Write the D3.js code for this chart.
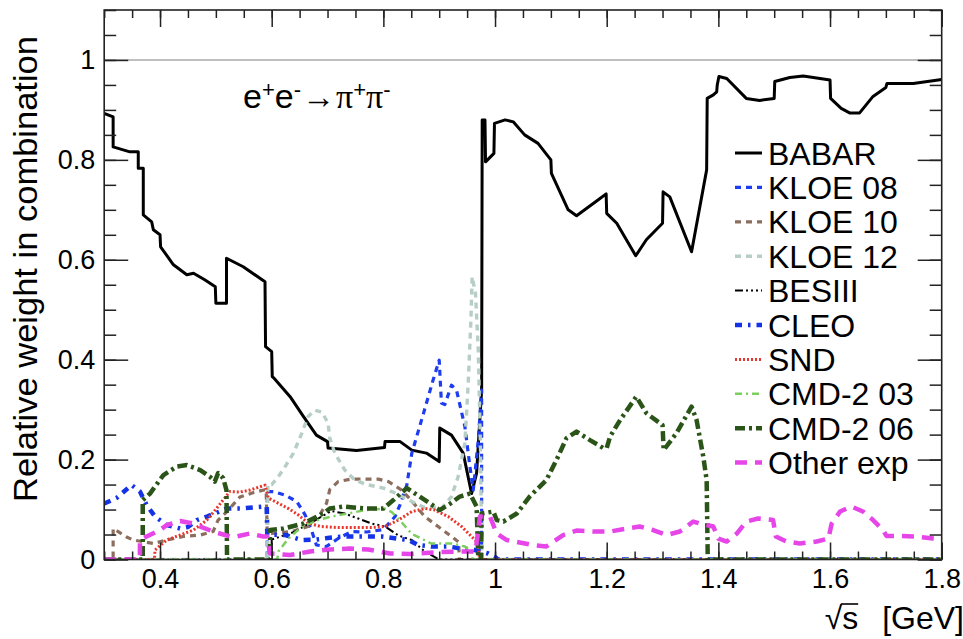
<!DOCTYPE html>
<html>
<head>
<meta charset="utf-8">
<script src="https://cdn.jsdelivr.net/npm/d3@7"></script>
<style>
  html, body { margin: 0; padding: 0; background: #fff; }
  svg { display: block; }
  text { font-family: "Liberation Sans", Arial, Helvetica, sans-serif; fill: #000; }
</style>
</head>
<body>
<svg id="chart" width="963" height="639"></svg>
<script>
// Relative weight of each experiment in the e+e- -> pi+pi- combination, as [sqrt(s) GeV, weight]
const babar = [[0.300,0.893],[0.316,0.886],[0.316,0.826],[0.346,0.816],[0.361,0.816],[0.361,0.783],[0.370,0.783],[0.370,0.690],[0.385,0.676],[0.388,0.660],[0.400,0.650],[0.401,0.626],[0.424,0.590],[0.448,0.570],[0.460,0.573],[0.480,0.560],[0.499,0.546],[0.500,0.513],[0.519,0.513],[0.519,0.603],[0.549,0.586],[0.588,0.556],[0.589,0.426],[0.600,0.416],[0.601,0.366],[0.605,0.362],[0.633,0.326],[0.657,0.286],[0.680,0.249],[0.700,0.236],[0.701,0.223],[0.752,0.218],[0.802,0.224],[0.803,0.236],[0.830,0.236],[0.851,0.219],[0.877,0.213],[0.900,0.196],[0.901,0.263],[0.922,0.249],[0.943,0.213],[0.958,0.132],[0.967,0.173],[0.976,0.339],[0.977,0.880],[0.982,0.880],[0.983,0.796],[0.998,0.813],[0.999,0.873],[1.018,0.880],[1.033,0.876],[1.053,0.850],[1.077,0.833],[1.100,0.800],[1.101,0.773],[1.131,0.700],[1.146,0.688],[1.185,0.720],[1.199,0.732],[1.200,0.693],[1.218,0.673],[1.252,0.608],[1.271,0.640],[1.300,0.673],[1.301,0.736],[1.313,0.726],[1.352,0.616],[1.379,0.780],[1.380,0.923],[1.391,0.930],[1.397,0.936],[1.398,0.950],[1.401,0.967],[1.415,0.963],[1.450,0.923],[1.474,0.919],[1.500,0.923],[1.501,0.957],[1.528,0.965],[1.552,0.968],[1.600,0.960],[1.601,0.923],[1.620,0.903],[1.635,0.894],[1.653,0.894],[1.677,0.927],[1.700,0.945],[1.702,0.953],[1.749,0.953],[1.800,0.961]];

const kloe08 = [[0.300,0],[0.592,0],[0.592,0.136],[0.603,0.136],[0.624,0.129],[0.645,0.116],[0.660,0.089],[0.672,0.056],[0.680,0.029],[0.698,0.026],[0.719,0.042],[0.743,0.056],[0.770,0.055],[0.800,0.060],[0.821,0.086],[0.830,0.110],[0.842,0.149],[0.851,0.213],[0.872,0.293],[0.889,0.359],[0.900,0.399],[0.904,0.313],[0.910,0.310],[0.922,0.349],[0.931,0.339],[0.946,0.266],[0.955,0.186],[0.961,0.139],[0.970,0.239],[0.976,0.339],[0.976,0],[1.800,0]];

const kloe10 = [[0.300,0],[0.316,0],[0.316,0.062],[0.340,0.045],[0.352,0.039],[0.388,0.032],[0.412,0.039],[0.442,0.046],[0.472,0.049],[0.495,0.056],[0.504,0.079],[0.519,0.095],[0.543,0.125],[0.570,0.135],[0.590,0.140],[0.592,0.052],[0.600,0.052],[0.636,0.056],[0.665,0.066],[0.686,0.089],[0.698,0.112],[0.704,0.140],[0.719,0.156],[0.743,0.161],[0.791,0.161],[0.809,0.156],[0.833,0.139],[0.851,0.117],[0.874,0.086],[0.898,0.066],[0.922,0.046],[0.935,0.035],[0.936,0],[1.800,0]];

const kloe12 = [[0.300,0],[0.593,0],[0.593,0.150],[0.600,0.150],[0.612,0.166],[0.624,0.186],[0.639,0.213],[0.654,0.253],[0.665,0.286],[0.677,0.299],[0.690,0.295],[0.701,0.273],[0.704,0.243],[0.713,0.213],[0.731,0.179],[0.749,0.159],[0.770,0.150],[0.800,0.143],[0.821,0.133],[0.851,0.116],[0.874,0.104],[0.890,0.105],[0.904,0.102],[0.922,0.126],[0.934,0.166],[0.946,0.233],[0.952,0.353],[0.957,0.486],[0.959,0.566],[0.965,0.533],[0.970,0.419],[0.974,0.219],[0.976,0.020],[0.976,0],[1.800,0]];

const besiii = [[0.300,0],[0.600,0],[0.600,0.040],[0.640,0.055],[0.680,0.080],[0.707,0.097],[0.731,0.092],[0.755,0.082],[0.779,0.072],[0.803,0.066],[0.827,0.048],[0.851,0.039],[0.874,0.016],[0.900,0],[1.800,0]];

const cleo = [[0.300,0.112],[0.322,0.123],[0.349,0.149],[0.364,0.136],[0.376,0.109],[0.391,0.086],[0.412,0.069],[0.436,0.062],[0.450,0.065],[0.466,0.079],[0.484,0.086],[0.498,0.092],[0.519,0.102],[0.543,0.102],[0.585,0.106],[0.591,0.106],[0.592,0.050],[0.624,0.049],[0.654,0.039],[0.680,0.040],[0.700,0.043],[0.725,0.046],[0.761,0.046],[0.797,0.046],[0.845,0.039],[0.862,0.029],[0.886,0.026],[0.916,0.026],[0.940,0.022],[0.960,0.020],[0.988,0.012],[1.000,0.005],[1.005,0],[1.800,0]];

const snd = [[0.300,0],[0.390,0],[0.391,0.019],[0.400,0.028],[0.412,0.039],[0.436,0.049],[0.460,0.059],[0.484,0.079],[0.501,0.102],[0.513,0.119],[0.525,0.136],[0.543,0.135],[0.561,0.139],[0.588,0.149],[0.594,0.123],[0.606,0.116],[0.630,0.102],[0.648,0.089],[0.666,0.072],[0.689,0.066],[0.719,0.064],[0.749,0.064],[0.779,0.064],[0.803,0.066],[0.827,0.079],[0.851,0.096],[0.875,0.102],[0.892,0.099],[0.916,0.086],[0.940,0.066],[0.958,0.046],[0.970,0.032],[0.972,0],[1.800,0]];

const cmd203 = [[0.300,0],[0.610,0],[0.612,0.016],[0.630,0.042],[0.654,0.066],[0.683,0.079],[0.707,0.086],[0.737,0.092],[0.767,0.099],[0.803,0.102],[0.815,0.095],[0.833,0.074],[0.851,0.051],[0.886,0.032],[0.922,0.032],[0.946,0.026],[0.958,0.015],[0.960,0],[1.800,0]];

const cmd206 = [[0.300,0],[0.369,0],[0.369,0.119],[0.382,0.132],[0.406,0.169],[0.430,0.186],[0.448,0.189],[0.472,0.179],[0.489,0.166],[0.498,0.156],[0.504,0.173],[0.513,0.163],[0.519,0.139],[0.520,0],[0.597,0],[0.597,0.059],[0.621,0.062],[0.657,0.072],[0.692,0.092],[0.704,0.102],[0.728,0.106],[0.770,0.102],[0.800,0.102],[0.818,0.119],[0.842,0.143],[0.865,0.126],[0.901,0.099],[0.920,0.112],[0.937,0.126],[0.955,0.132],[0.967,0.106],[0.970,0],[0.975,0],[0.976,0.092],[0.997,0.096],[1.003,0.079],[1.015,0.076],[1.039,0.092],[1.062,0.126],[1.092,0.159],[1.110,0.199],[1.128,0.243],[1.146,0.256],[1.170,0.239],[1.194,0.223],[1.200,0.223],[1.206,0.246],[1.224,0.279],[1.253,0.326],[1.271,0.293],[1.300,0.269],[1.302,0.219],[1.325,0.253],[1.352,0.306],[1.361,0.279],[1.373,0.206],[1.379,0.159],[1.381,0],[1.800,0]];

const otherExp = [[0.300,0],[0.364,0],[0.364,0.039],[0.376,0.046],[0.400,0.059],[0.412,0.069],[0.436,0.077],[0.460,0.072],[0.472,0.066],[0.495,0.056],[0.525,0.046],[0.537,0.046],[0.561,0.052],[0.585,0.046],[0.592,0.046],[0.597,0.012],[0.633,0.009],[0.669,0.016],[0.704,0.020],[0.740,0.022],[0.773,0.020],[0.812,0.012],[0.848,0.011],[0.900,0.015],[0.937,0.016],[0.965,0.016],[0.973,0.086],[0.991,0.086],[1.003,0.052],[1.021,0.039],[1.044,0.034],[1.068,0.029],[1.092,0.026],[1.122,0.049],[1.146,0.058],[1.176,0.056],[1.206,0.056],[1.236,0.062],[1.259,0.066],[1.283,0.059],[1.307,0.049],[1.331,0.056],[1.355,0.076],[1.367,0.072],[1.391,0.066],[1.400,0.042],[1.415,0.036],[1.433,0.052],[1.450,0.076],[1.471,0.082],[1.498,0.079],[1.503,0.046],[1.522,0.036],[1.546,0.032],[1.576,0.036],[1.597,0.042],[1.603,0.072],[1.618,0.096],[1.638,0.106],[1.659,0.096],[1.677,0.079],[1.695,0.059],[1.701,0.047],[1.725,0.047],[1.755,0.046],[1.785,0.042],[1.800,0.040]];

// Legend names in drawing order
const seriesNames = ["BABAR", "KLOE 08", "KLOE 10", "KLOE 12", "BESIII", "CLEO", "SND", "CMD-2 03", "CMD-2 06", "Other exp"];
const seriesData = [babar, kloe08, kloe10, kloe12, besiii, cleo, snd, cmd203, cmd206, otherExp];

// Axis ticks
const xMajorTicks = [0.4, 0.6, 0.8, 1.0, 1.2, 1.4, 1.6, 1.8];
const xTickLabels = ["0.4", "0.6", "0.8", "1", "1.2", "1.4", "1.6", "1.8"];
const yMajorTicks = [0, 0.2, 0.4, 0.6, 0.8, 1.0];
const yTickLabels = ["0", "0.2", "0.4", "0.6", "0.8", "1"];

// Line styles per experiment
const styles = [
  { color: "#000000", width: 3,   dash: null },
  { color: "#1e3cf0", width: 3.2, dash: "6,5" },
  { color: "#8c6e5e", width: 3.2, dash: "6,5" },
  { color: "#b6cec6", width: 3.4, dash: "6,5" },
  { color: "#000000", width: 2,   dash: "8,3,2,3,2,3,2,3" },
  { color: "#1432e6", width: 4.5, dash: "7,6,2.5,6" },
  { color: "#e8362c", width: 3,   dash: "2,2" },
  { color: "#7ccf5e", width: 2.5, dash: "7,4,2,4" },
  { color: "#2b5518", width: 4.5, dash: "10,4,3,4" },
  { color: "#e645e8", width: 4.5, dash: "12,8" }
];

const svg = d3.select("#chart");
const plotLeft = 104.2, plotRight = 941.7, plotTop = 10, plotBottom = 559.5;

const x = d3.scaleLinear().domain([0.3, 1.8]).range([plotLeft, plotRight]);
const y = d3.scaleLinear().domain([0, 1.1]).range([plotBottom, plotTop]);

svg.append("defs").append("clipPath").attr("id", "plotClip")
  .append("rect").attr("x", plotLeft).attr("y", plotTop)
  .attr("width", plotRight - plotLeft).attr("height", plotBottom - plotTop);

// reference line at weight = 1
svg.append("line")
  .attr("x1", plotLeft).attr("x2", plotRight).attr("y1", y(1)).attr("y2", y(1))
  .attr("stroke", "#aaaaaa").attr("stroke-width", 1.5);

const line = d3.line().x(d => x(d[0])).y(d => y(d[1]));
const plot = svg.append("g").attr("clip-path", "url(#plotClip)");
seriesData.forEach((data, i) => {
  const s = styles[i];
  plot.append("path")
    .datum(data)
    .attr("d", line)
    .attr("fill", "none")
    .attr("stroke", s.color)
    .attr("stroke-width", s.width)
    .attr("stroke-dasharray", s.dash)
    .attr("stroke-linejoin", "round");
});

// axes with inward ticks on all four sides
const xMinor = d3.range(0.3, 1.8001, 0.05);
const yMinor = d3.range(0, 1.1001, 0.05);
function styleAxis(g) {
  g.select(".domain").remove();
  g.selectAll(".tick line").attr("stroke", "#222").attr("stroke-width", 1.5);
}
svg.append("g").attr("transform", `translate(0,${plotBottom})`)
  .call(d3.axisBottom(x).tickValues(xMinor).tickSize(-8).tickFormat(""))
  .call(styleAxis);
svg.append("g").attr("transform", `translate(0,${plotBottom})`)
  .call(d3.axisBottom(x).tickValues(xMajorTicks).tickSize(-17).tickPadding(9)
    .tickFormat((d, i) => xTickLabels[i]))
  .call(styleAxis)
  .call(g => g.selectAll("text").style("font-size", "27px").attr("font-family", "Liberation Sans"));
svg.append("g").attr("transform", `translate(0,${plotTop})`)
  .call(d3.axisTop(x).tickValues(xMinor).tickSize(-8).tickFormat(""))
  .call(styleAxis);
svg.append("g").attr("transform", `translate(0,${plotTop})`)
  .call(d3.axisTop(x).tickValues(xMajorTicks).tickSize(-17).tickFormat(""))
  .call(styleAxis);

svg.append("g").attr("transform", `translate(${plotLeft},0)`)
  .call(d3.axisLeft(y).tickValues(yMinor).tickSize(-12).tickFormat(""))
  .call(styleAxis);
svg.append("g").attr("transform", `translate(${plotLeft},0)`)
  .call(d3.axisLeft(y).tickValues(yMajorTicks).tickSize(-24).tickPadding(9)
    .tickFormat((d, i) => yTickLabels[i]))
  .call(styleAxis)
  .call(g => g.selectAll("text").style("font-size", "27px").attr("font-family", "Liberation Sans"));
svg.append("g").attr("transform", `translate(${plotRight},0)`)
  .call(d3.axisRight(y).tickValues(yMinor).tickSize(-12).tickFormat(""))
  .call(styleAxis);
svg.append("g").attr("transform", `translate(${plotRight},0)`)
  .call(d3.axisRight(y).tickValues(yMajorTicks).tickSize(-24).tickFormat(""))
  .call(styleAxis);

// frame
svg.append("rect")
  .attr("x", plotLeft).attr("y", plotTop)
  .attr("width", plotRight - plotLeft).attr("height", plotBottom - plotTop)
  .attr("fill", "none").attr("stroke", "#222").attr("stroke-width", 1.6);

// axis titles
svg.append("text")
  .attr("transform", "translate(37,36) rotate(-90)")
  .attr("text-anchor", "end")
  .attr("textLength", 466)
  .attr("lengthAdjust", "spacingAndGlyphs")
  .style("font-size", "33px")
  .text("Relative weight in combination");

const xt = svg.append("text").attr("y", 629).style("font-size", "32px");
xt.append("tspan").text("\u221A");
xt.append("tspan").text("s");
xt.append("tspan").attr("dx", 24).text("[GeV]");
{
  const total = xt.node().getComputedTextLength();
  const startX = 940 - total;
  xt.attr("x", startX);
  const rootW = xt.node().getSubStringLength(0, 1);
  const sW = xt.node().getSubStringLength(1, 1);
  const x0 = startX + rootW;
  svg.append("line").attr("x1", x0 - 1).attr("x2", x0 + sW)
    .attr("y1", 604).attr("y2", 604).attr("stroke", "#000").attr("stroke-width", 1.6);
}

// process label e+e- -> pi+pi-, one text run with raised charge signs
const title = svg.append("text").attr("x", 243).attr("y", 108).style("font-size", "34px");
const sup = 11;
title.append("tspan").text("e");
title.append("tspan").attr("dy", -sup).style("font-size", "22px").text("+");
title.append("tspan").attr("dy", sup).text("e");
title.append("tspan").attr("dy", -sup).style("font-size", "22px").text("-");
title.append("tspan").attr("dy", sup).attr("dx", 1).style("font-size", "33px").text("\u2192");
title.append("tspan").attr("dx", 1).attr("font-family", "Liberation Serif").text("\u03C0");
title.append("tspan").attr("dy", -sup).style("font-size", "22px").text("+");
title.append("tspan").attr("dy", sup).attr("font-family", "Liberation Serif").text("\u03C0");
title.append("tspan").attr("dy", -sup).style("font-size", "22px").text("-");

// legend
const legend = svg.append("g");
seriesNames.forEach((name, i) => {
  const cy = 153 + i * 34.4;
  const s = styles[i];
  legend.append("line")
    .attr("x1", 735).attr("x2", 762).attr("y1", cy).attr("y2", cy)
    .attr("stroke", s.color).attr("stroke-width", s.width)
    .attr("stroke-dasharray", s.dash);
  legend.append("text")
    .attr("x", 768).attr("y", cy + 11.5)
    .style("font-size", "32px")
    .text(name);
});
</script>
</body>
</html>
